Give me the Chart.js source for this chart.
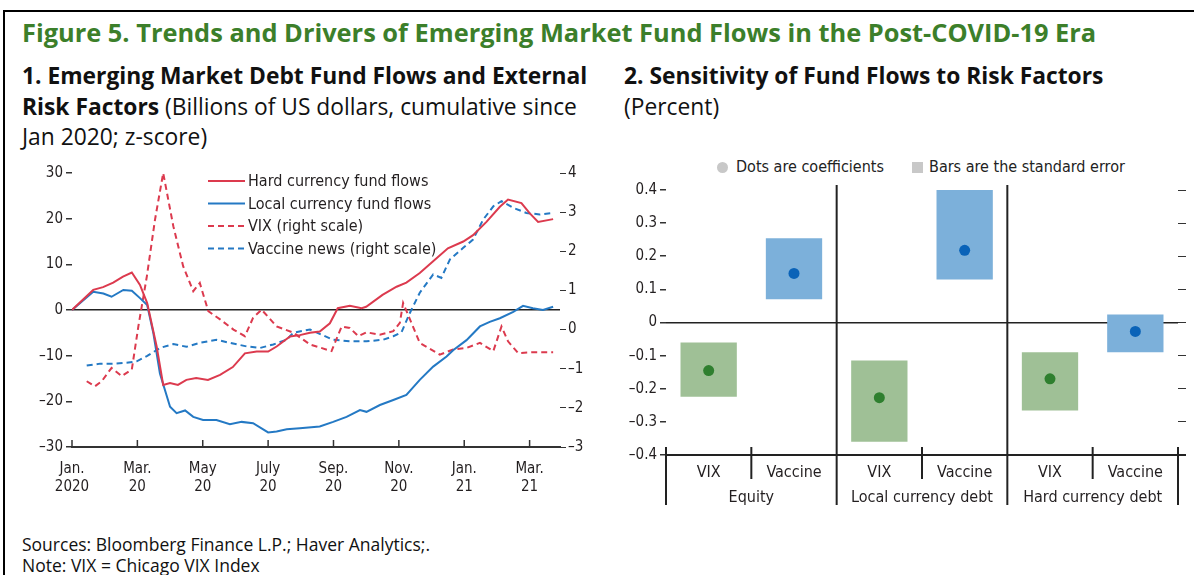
<!DOCTYPE html>
<html>
<head>
<meta charset="utf-8">
<script src="https://cdn.jsdelivr.net/npm/chart.js@4.4.1/dist/chart.umd.min.js"></script>
<style>
  body { margin: 0; background: #fff; width: 1194px; height: 575px; overflow: hidden; position: relative; font-family: "Open Sans", "Noto Sans", sans-serif; color: #111; }
  .abs { position: absolute; white-space: nowrap; }
  #topRule { left: 3px; top: 10px; width: 1191px; height: 2px; background: #000; }
  #leftRule { left: 3px; top: 10px; width: 2px; height: 565px; background: #000; }
  #title { left: 22px; top: 14px; font-size: 25.4px; line-height: 36px; font-weight: 700; color: #3c7f2a; }
  .sub { font-size: 22.8px; line-height: 30.5px; }
  .sub b { font-weight: 700; }
  #sub1 { left: 22px; top: 61px; }
  #sub2 { left: 624px; top: 61px; }
  #notes { left: 22px; top: 534px; font-size: 17.5px; line-height: 21px; }
  .key { font-family: "Liberation Sans Narrow", "DejaVu Sans Condensed", sans-serif; font-size: 16px; color: #222; top: 157px; }
  .dot { display: inline-block; width: 11px; height: 11px; border-radius: 50%; background: #c8c8c8; margin-right: 8px; vertical-align: -1px; }
  .sq { display: inline-block; width: 11px; height: 11px; background: #c8c8c8; margin-right: 6px; vertical-align: -1px; }
  canvas { position: absolute; }
</style>
</head>
<body>
<div class="abs" id="topRule"></div>
<div class="abs" id="leftRule"></div>
<div class="abs" id="title">Figure 5. Trends and Drivers of Emerging Market Fund Flows in the Post-COVID-19 Era</div>
<div class="abs sub" id="sub1"><b>1. Emerging Market Debt Fund Flows and External</b><br><b>Risk Factors</b> (Billions of US dollars, cumulative since<br>Jan 2020; z-score)</div>
<div class="abs sub" id="sub2"><b>2. Sensitivity of Fund Flows to Risk Factors</b><br>(Percent)</div>
<div class="abs key" style="left:717px"><span class="dot"></span>Dots are coefficients</div>
<div class="abs key" style="left:912px"><span class="sq"></span>Bars are the standard error</div>
<canvas id="flows" width="575" height="340" style="left:20px; top:160px;"></canvas>
<canvas id="sens" width="584" height="335" style="left:610px; top:175px;"></canvas>
<div class="abs" id="notes">Sources: Bloomberg Finance L.P.; Haver Analytics;.<br>Note: VIX = Chicago VIX Index</div>

<script>
'use strict';

// panel 1: months since Jan 2020, fund flows in $bn (left), z-scores (right)
const tickMonths = [0, 2, 4, 6, 8, 10, 12, 14];
const xTickLabels = [['Jan.', '2020'], ['Mar.', '20'], ['May', '20'], ['July', '20'], ['Sep.', '20'], ['Nov.', '20'], ['Jan.', '21'], ['Mar.', '21']];

const hardMonths = [0, 0.65, 0.95, 1.26, 1.56, 1.83, 2.08, 2.3, 2.59, 2.79, 3.0, 3.24, 3.5, 3.8, 4.16, 4.53, 4.92, 5.29, 5.65, 6.0, 6.26, 6.67, 6.97, 7.28, 7.58, 7.89, 8.13, 8.5, 8.86, 9.0, 9.5, 9.93, 10.23, 10.64, 11.04, 11.5, 11.97, 12.27, 12.68, 13.09, 13.34, 13.75, 14.0, 14.26, 14.72];
const hardFlows = [0, 4.4, 5.0, 6.0, 7.3, 8.2, 5.5, 1.5, -8, -16.4, -16, -16.4, -15.3, -14.9, -15.3, -14.2, -12.5, -9.5, -9.1, -9.1, -8, -5.8, -5.5, -5.0, -4.7, -2.9, 0.4, 0.9, 0.4, 0.7, 3.3, 5.1, 6.0, 8.1, 10.6, 13.5, 15, 16.4, 19.3, 22.6, 24.2, 23.4, 21.2, 19.3, 19.9];

const localMonths = [0, 0.65, 0.96, 1.21, 1.57, 1.83, 2.08, 2.3, 2.49, 2.69, 3.0, 3.2, 3.46, 3.71, 4.01, 4.42, 4.83, 5.19, 5.54, 6.0, 6.26, 6.57, 6.97, 7.58, 7.99, 8.4, 8.81, 9.01, 9.42, 9.83, 10.23, 10.64, 11.05, 11.46, 11.66, 12.07, 12.48, 12.78, 13.09, 13.5, 13.8, 14.1, 14.41, 14.72];
const localFlows = [0, 4.0, 3.6, 2.9, 4.4, 4.2, 2.6, 1.1, -5.1, -13.9, -21.2, -22.6, -22, -23.4, -24.1, -24.1, -25, -24.5, -24.8, -26.8, -26.6, -26.1, -25.9, -25.5, -24.5, -23.4, -21.9, -22.3, -20.8, -19.7, -18.6, -15.3, -12.4, -10.2, -8.8, -6.6, -3.6, -2.6, -1.8, -0.4, 0.9, 0.4, 0, 0.7];

const vixMonths = [0.45, 0.7, 0.91, 1.21, 1.52, 1.83, 2.03, 2.29, 2.54, 2.79, 3.1, 3.4, 3.71, 3.91, 4.17, 4.53, 4.94, 5.29, 5.54, 5.8, 6.26, 6.77, 7.28, 7.94, 8.25, 8.5, 8.76, 9.01, 9.42, 9.83, 10.03, 10.13, 10.34, 10.64, 11.25, 11.66, 12.07, 12.48, 12.89, 13.14, 13.34, 13.65, 14.1, 14.72];
const vixZ = [-1.32, -1.45, -1.32, -0.98, -1.19, -1.02, 0.08, 1.36, 2.81, 4.0, 2.64, 1.62, 0.98, 1.19, 0.47, 0.26, 0, -0.17, 0.3, 0.51, 0.08, -0.08, -0.38, -0.55, 0.08, 0.04, -0.17, -0.07, -0.13, -0.04, 0.17, 0.68, 0.26, -0.34, -0.64, -0.51, -0.47, -0.34, -0.55, 0.08, -0.3, -0.6, -0.58, -0.58];

const vaccineMonths = [0.45, 0.86, 1.26, 1.67, 1.98, 2.29, 2.69, 3.1, 3.5, 3.91, 4.42, 4.83, 5.34, 5.75, 6.16, 6.57, 6.77, 7.28, 7.99, 8.5, 9.01, 9.52, 9.83, 10.08, 10.34, 10.64, 11.05, 11.3, 11.56, 11.97, 12.27, 12.58, 12.89, 13.14, 13.5, 13.9, 14.31, 14.72];
const vaccineZ = [-0.92, -0.87, -0.87, -0.85, -0.81, -0.68, -0.47, -0.37, -0.44, -0.34, -0.26, -0.34, -0.43, -0.47, -0.38, -0.26, -0.08, 0, -0.26, -0.3, -0.3, -0.26, -0.17, -0.07, 0.43, 0.94, 1.41, 1.32, 1.79, 2.09, 2.3, 2.81, 3.15, 3.28, 3.11, 2.98, 2.94, 2.98];

// panel 2: sensitivity coefficients and standard error bands
const factorLabels = ['VIX', 'Vaccine', 'VIX', 'Vaccine', 'VIX', 'Vaccine'];
const groupLabels = ['Equity', 'Local currency debt', 'Hard currency debt'];
const coefficients = [-0.145, 0.148, -0.227, 0.218, -0.17, -0.027];
const seLow = [-0.224, 0.07, -0.36, 0.13, -0.266, -0.09];
const seHigh = [-0.06, 0.254, -0.115, 0.4, -0.09, 0.024];

const RED = '#dc3a4e';
const BLUE = '#2479c4';
const INK = '#231f20';
const NARROW = '"Liberation Sans Narrow", "DejaVu Sans Condensed", sans-serif';

Chart.defaults.font.family = NARROW;
Chart.defaults.font.size = 15;
Chart.defaults.color = INK;

function toPoints(xs, ys) {
  return xs.map((x, i) => ({ x: x, y: ys[i] }));
}

function fmtTick(v, digits) {
  if (Math.abs(v) < 1e-9) return '0';
  let s = Number(v).toFixed(digits);
  return s.replace('-', '\u2013');
}

// legend drawn inside the plot, top right
const lineLegend = {
  id: 'lineLegend',
  afterDraw(chart) {
    const ctx = chart.ctx;
    const ca = chart.chartArea;
    ctx.save();
    ctx.font = '16px ' + NARROW;
    ctx.textBaseline = 'middle';
    chart.data.datasets.forEach((ds, i) => {
      let y = ca.top + 8 + i * 22.5;
      let x0 = ca.left + 136;
      ctx.strokeStyle = ds.borderColor;
      ctx.lineWidth = 2;
      ctx.setLineDash(ds.borderDash || []);
      ctx.beginPath();
      ctx.moveTo(x0, y);
      ctx.lineTo(x0 + 37, y);
      ctx.stroke();
      ctx.setLineDash([]);
      ctx.fillStyle = INK;
      ctx.fillText(ds.label, x0 + 40, y + 1);
    });
    ctx.restore();
  }
};

// x ticks point up into the plot
const innerTicks = {
  id: 'innerTicks',
  afterDraw(chart) {
    const ctx = chart.ctx;
    const xs = chart.scales.x;
    const bottom = chart.chartArea.bottom;
    ctx.save();
    ctx.strokeStyle = '#333';
    ctx.lineWidth = 1.5;
    tickMonths.forEach(m => {
      let px = xs.getPixelForValue(m);
      ctx.beginPath();
      ctx.moveTo(px, bottom);
      ctx.lineTo(px, bottom - 7);
      ctx.stroke();
    });
    ctx.restore();
  }
};

new Chart(document.getElementById('flows'), {
  type: 'line',
  data: {
    datasets: [{
      label: 'Hard currency fund flows',
      data: toPoints(hardMonths, hardFlows),
      borderColor: RED,
      yAxisID: 'y'
    }, {
      label: 'Local currency fund flows',
      data: toPoints(localMonths, localFlows),
      borderColor: BLUE,
      yAxisID: 'y'
    }, {
      label: 'VIX (right scale)',
      data: toPoints(vixMonths, vixZ),
      borderColor: RED,
      borderDash: [6, 4],
      yAxisID: 'y1'
    }, {
      label: 'Vaccine news (right scale)',
      data: toPoints(vaccineMonths, vaccineZ),
      borderColor: BLUE,
      borderDash: [6, 4],
      yAxisID: 'y1'
    }]
  },
  options: {
    responsive: false,
    animation: false,
    layout: { padding: { top: 13 } },
    elements: { point: { radius: 0 }, line: { borderWidth: 2, tension: 0 } },
    plugins: { legend: { display: false }, tooltip: { enabled: false } },
    scales: {
      x: {
        type: 'linear',
        min: 0,
        max: 14.93,
        afterBuildTicks: s => { s.ticks = tickMonths.map(v => ({ value: v })); },
        ticks: { callback: (v, i) => xTickLabels[i], maxRotation: 0, autoSkip: false, padding: 5 },
        grid: { display: false },
        border: { color: '#333', width: 2 },
        afterFit: s => { s.height = 53; }
      },
      y: {
        position: 'left',
        min: -30,
        max: 30,
        ticks: { stepSize: 10, callback: v => fmtTick(v, 0), padding: 3 },
        grid: {
          color: c => (c.tick && c.tick.value === 0 ? '#222' : 'transparent'),
          lineWidth: 1.5,
          tickColor: '#333',
          tickLength: 6
        },
        border: { display: false },
        afterFit: s => { s.width = 52; }
      },
      y1: {
        position: 'right',
        min: -3,
        max: 4,
        ticks: { stepSize: 1, callback: v => fmtTick(v, 0), padding: 2 },
        grid: { drawOnChartArea: false, tickColor: '#333', tickLength: 6 },
        border: { display: false },
        afterFit: s => { s.width = 35; }
      }
    }
  },
  plugins: [lineLegend, innerTicks]
});

// separators and group names under panel 2
const groupAxis = {
  id: 'groupAxis',
  afterDraw(chart) {
    const ctx = chart.ctx;
    const xs = chart.scales.x;
    const ca = chart.chartArea;
    const n = factorLabels.length;
    ctx.save();
    ctx.strokeStyle = '#222';
    ctx.lineWidth = 2;
    for (let i = 0; i <= n; i++) {
      let px;
      if (i === 0) px = ca.left;
      else if (i === n) px = ca.right;
      else px = (xs.getPixelForValue(i - 1) + xs.getPixelForValue(i)) / 2;
      let top = ca.bottom - 8;
      let bottom = ca.bottom + 24;
      if (i % 2 === 0) bottom = ca.bottom + 50;
      if (i === 2 || i === 4) top = ca.top - 5;
      ctx.beginPath();
      ctx.moveTo(px, top);
      ctx.lineTo(px, bottom);
      ctx.stroke();
    }
    // axis line runs a little past the plot
    ctx.beginPath();
    ctx.moveTo(ca.right, ca.bottom);
    ctx.lineTo(ca.right + 8, ca.bottom);
    ctx.stroke();
    ctx.fillStyle = INK;
    ctx.font = '16px ' + NARROW;
    ctx.textAlign = 'center';
    ctx.textBaseline = 'middle';
    groupLabels.forEach((g, j) => {
      let cx = (xs.getPixelForValue(j * 2) + xs.getPixelForValue(j * 2 + 1)) / 2;
      ctx.fillText(g, cx, ca.bottom + 43);
    });
    ctx.restore();
  }
};

const boxColors = factorLabels.map(f => (f === 'VIX' ? '#9fc096' : '#7cb0da'));
const dotColors = factorLabels.map(f => (f === 'VIX' ? '#2f7f2f' : '#0a63b8'));

new Chart(document.getElementById('sens'), {
  data: {
    labels: factorLabels,
    datasets: [{
      type: 'line',
      label: 'Coefficient',
      data: coefficients,
      showLine: false,
      pointRadius: 5.5,
      pointBorderWidth: 0,
      pointBackgroundColor: dotColors,
      order: 0
    }, {
      type: 'bar',
      label: 'Standard error',
      data: seLow.map((lo, i) => [lo, seHigh[i]]),
      backgroundColor: boxColors,
      barPercentage: 0.66,
      categoryPercentage: 1,
      order: 1
    }]
  },
  options: {
    responsive: false,
    animation: false,
    layout: { padding: { top: 15 } },
    plugins: { legend: { display: false }, tooltip: { enabled: false } },
    scales: {
      x: {
        type: 'category',
        grid: { display: false },
        border: { color: '#222', width: 2 },
        ticks: { padding: 0, font: { size: 16 } },
        afterFit: s => { s.height = 55; }
      },
      y: {
        min: -0.4,
        max: 0.4,
        ticks: { stepSize: 0.1, callback: v => fmtTick(v, 1), padding: 3 },
        grid: {
          color: c => (c.tick && Math.abs(c.tick.value) < 1e-9 ? '#222' : 'transparent'),
          lineWidth: 1.5,
          tickColor: '#333',
          tickLength: 6
        },
        border: { display: false },
        afterFit: s => { s.width = 56; }
      },
      y2: {
        position: 'right',
        min: -0.4,
        max: 0.4,
        ticks: { display: false, stepSize: 0.1 },
        grid: {
          drawOnChartArea: false,
          tickColor: c => (c.tick && Math.abs(c.tick.value + 0.4) < 1e-9 ? 'transparent' : '#333'),
          tickLength: 8
        },
        border: { display: false },
        afterFit: s => { s.width = 16; }
      }
    }
  },
  plugins: [groupAxis]
});
</script>
</body>
</html>
